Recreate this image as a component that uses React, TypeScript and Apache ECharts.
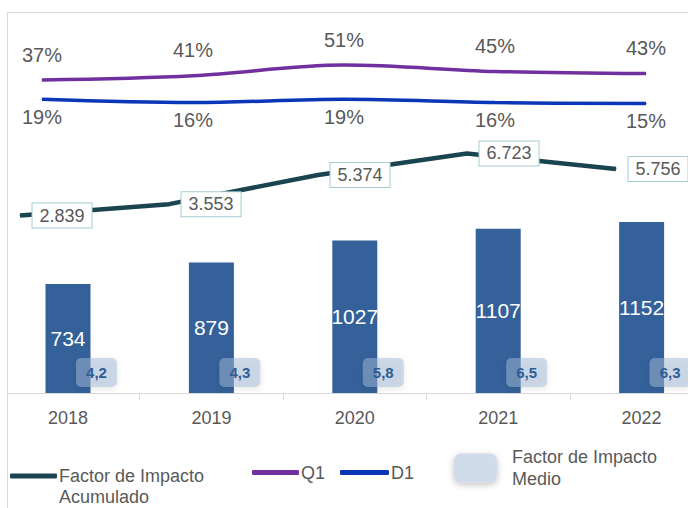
import React, { useEffect, useRef } from "react";
import * as echarts from "echarts";

const years = ["2018", "2019", "2020", "2021", "2022"];
const publications = [734, 879, 1027, 1107, 1152];
const cumulativeIF = [2839, 3553, 5374, 6723, 5756];
const q1Pct = [37, 41, 51, 45, 43];
const d1Pct = [19, 16, 19, 16, 15];
const meanIF = [4.2, 4.3, 5.8, 6.5, 6.3];

const NAME_ACUM = "Factor de Impacto Acumulado";
const NAME_Q1 = "Q1";
const NAME_D1 = "D1";
const NAME_MEDIO = "Factor de Impacto Medio";

const FONT = "'Liberation Sans', Arial, sans-serif";
const GRAY = "#595959";

const fmtThousands = (v: number) =>
  String(v).replace(/\B(?=(\d{3})+(?!\d))/g, ".");
const fmtDecimal = (v: number) => v.toFixed(1).replace(".", ",");

export default function App() {
  const ref = useRef<HTMLDivElement>(null);

  useEffect(() => {
    if (!ref.current) return;
    const chart = echarts.init(ref.current, undefined, { renderer: "svg" });

    const option: any = {
      animation: false,
      backgroundColor: "#ffffff",
      textStyle: { fontFamily: FONT },
      graphic: [
        {
          type: "rect",
          z: 100,
          shape: { x: 7.5, y: 12.5, width: 720, height: 520 },
          style: { fill: "none", stroke: "#d9d9d9", lineWidth: 1 },
          silent: true,
        },
        {
          type: "rect",
          z: 99,
          shape: { x: 0, y: 389, width: 7, height: 8 },
          style: { fill: "#ffffff" },
          silent: true,
        },
      ],
      grid: [
        { left: -3.7, width: 717, top: 13, height: 380, outerBoundsMode: "none", containLabel: false },
        { left: 42, width: 604, top: 12.5, height: 107.2, outerBoundsMode: "none" },
        { left: 20, width: 596, top: 101, height: 160, outerBoundsMode: "none" },
      ],
      xAxis: [
        {
          gridIndex: 0,
          type: "category",
          data: years,
          axisLine: { lineStyle: { color: "#d9d9d9", width: 1 } },
          axisTick: { show: true, length: 7, lineStyle: { color: "#d9d9d9" } },
          axisLabel: { fontSize: 18, color: GRAY, margin: 16, fontFamily: FONT },
        },
        { gridIndex: 1, type: "category", data: years, boundaryGap: false, show: false },
        { gridIndex: 2, type: "category", data: years, boundaryGap: false, show: false },
      ],
      yAxis: [
        { gridIndex: 0, type: "value", min: 0, max: 2560, show: false },
        { gridIndex: 1, type: "value", min: 0, max: 100, show: false },
        { gridIndex: 2, type: "value", min: 0, max: 10000, show: false },
      ],
      legend: [
        {
          data: [NAME_ACUM],
          left: 5,
          top: 439.5,
          icon: "roundRect",
          itemWidth: 47,
          itemHeight: 5,
          formatter: () => "\nFactor de Impacto\nAcumulado",
          textStyle: {
            fontSize: 18,
            color: GRAY,
            lineHeight: 21,
            padding: [0, 0, 0, -3],
            fontFamily: FONT,
          },
        },
        {
          data: [NAME_Q1],
          left: 247,
          top: 458.5,
          icon: "roundRect",
          itemWidth: 47,
          itemHeight: 5,
          textStyle: { fontSize: 18, color: GRAY, padding: [0, 0, 0, -3], fontFamily: FONT },
        },
        {
          data: [NAME_D1],
          left: 335,
          top: 458.5,
          icon: "roundRect",
          itemWidth: 49,
          itemHeight: 5,
          textStyle: { fontSize: 18, color: GRAY, padding: [0, 0, 0, -3], fontFamily: FONT },
        },
        {
          data: [NAME_MEDIO],
          left: 449,
          top: 441,
          icon: "roundRect",
          itemWidth: 43,
          itemHeight: 29,
          itemStyle: {
            color: "#d0dcea",
            shadowBlur: 6,
            shadowColor: "rgba(0,0,0,0.25)",
            shadowOffsetY: 2,
          },
          formatter: () => "Factor de Impacto\nMedio",
          textStyle: {
            fontSize: 18,
            color: GRAY,
            lineHeight: 22,
            padding: [0, 0, 0, 10],
            fontFamily: FONT,
          },
        },
      ],
      series: [
        {
          name: "Publicaciones",
          type: "bar",
          xAxisIndex: 0,
          yAxisIndex: 0,
          data: publications,
          barWidth: 45,
          itemStyle: { color: "#34619a" },
          label: {
            show: true,
            position: "inside",
            color: "#ffffff",
            fontSize: 21,
            fontFamily: FONT,
          },
          z: 2,
        },
        {
          name: NAME_MEDIO,
          type: "custom",
          xAxisIndex: 0,
          yAxisIndex: 0,
          data: meanIF.map((v, i) => [i, v]),
          itemStyle: { color: "#d0dcea" },
          z: 5,
          renderItem: (params: any, api: any) => {
            const p = api.coord([api.value(0), 0]);
            const x = p[0] + 8;
            const y = p[1] - 35;
            const w = 41;
            const h = 29;
            return {
              type: "group",
              children: [
                {
                  type: "rect",
                  shape: { x, y, width: w, height: h, r: 5 },
                  style: {
                    fill: "rgba(161,185,213,0.5)",
                    shadowBlur: 6,
                    shadowColor: "rgba(0,0,0,0.18)",
                    shadowOffsetY: 2,
                  },
                },
                {
                  type: "text",
                  style: {
                    text: fmtDecimal(api.value(1)),
                    x: x + w / 2,
                    y: y + h / 2,
                    align: "center",
                    verticalAlign: "middle",
                    fontSize: 15,
                    fontWeight: "bold",
                    fontFamily: FONT,
                    fill: "#2e5c94",
                  },
                },
              ],
            };
          },
        },
        {
          name: NAME_Q1,
          type: "line",
          xAxisIndex: 1,
          yAxisIndex: 1,
          data: q1Pct,
          smooth: 0.35,
          symbol: "circle",
          symbolSize: 1,
          color: "#7030a0",
          lineStyle: { color: "#7030a0", width: 3.5 },
          label: {
            show: true,
            position: "top",
            distance: 15,
            formatter: "{c}%",
            fontSize: 20,
            color: GRAY,
            fontFamily: FONT,
          },
          z: 3,
        },
        {
          name: NAME_D1,
          type: "line",
          xAxisIndex: 1,
          yAxisIndex: 1,
          data: d1Pct,
          smooth: 0.35,
          symbol: "circle",
          symbolSize: 1,
          color: "#0a36b8",
          lineStyle: { color: "#0a36b8", width: 3.5 },
          label: {
            show: true,
            position: "bottom",
            distance: 7,
            formatter: "{c}%",
            fontSize: 20,
            color: GRAY,
            fontFamily: FONT,
          },
          z: 3,
        },
        {
          name: NAME_ACUM,
          type: "line",
          xAxisIndex: 2,
          yAxisIndex: 2,
          data: cumulativeIF,
          symbol: "circle",
          symbolSize: 1,
          color: "#1b4451",
          lineStyle: { color: "#1b4451", width: 4.5 },
          label: {
            show: true,
            position: "right",
            distance: 12,
            formatter: (p: any) => fmtThousands(p.value),
            fontSize: 18,
            color: GRAY,
            fontFamily: FONT,
            backgroundColor: "#ffffff",
            borderColor: "#a5cdd1",
            borderWidth: 1,
            padding: [3, 7],
          },
          z: 4,
        },
      ],
    };

    chart.setOption(option);
    return () => chart.dispose();
  }, []);

  return (
    <div
      ref={ref}
      style={{ position: "fixed", left: 0, top: 0, width: 688, height: 508 }}
    />
  );
}
